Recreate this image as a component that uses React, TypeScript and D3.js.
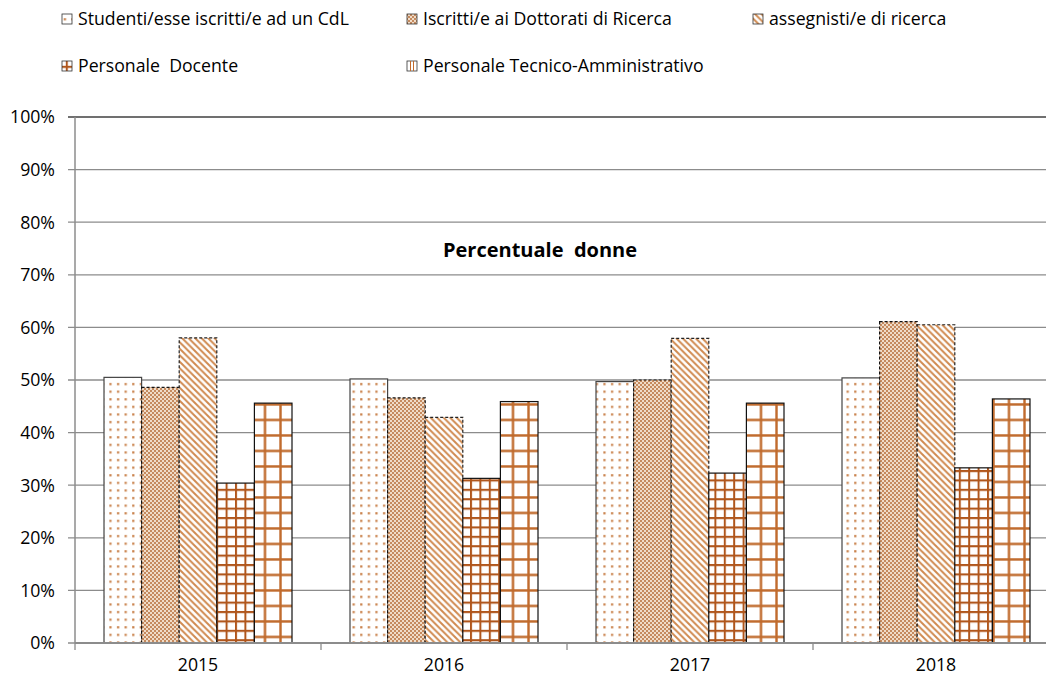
import React, { useEffect, useRef } from "react";
import * as d3 from "d3";

const categories = ["2015", "2016", "2017", "2018"];
const seriesNames = [
  "Studenti/esse iscritti/e ad un CdL",
  "Iscritti/e ai Dottorati di Ricerca",
  "assegnisti/e di ricerca",
  "Personale  Docente",
  "Personale Tecnico-Amministrativo",
];
const studenti = [50.5, 50.2, 49.7, 50.4];
const dottorati = [48.6, 46.6, 50.0, 61.1];
const assegnisti = [58.0, 42.9, 57.9, 60.5];
const docenti = [30.4, 31.3, 32.3, 33.3];
const tecnici = [45.6, 45.9, 45.6, 46.4];
const seriesValues = [studenti, dottorati, assegnisti, docenti, tecnici];
const yTicks = [0, 10, 20, 30, 40, 50, 60, 70, 80, 90, 100];
const title = "Percentuale  donne";

const W = 1046;
const H = 679;
const FONT = "'Open Sans', sans-serif";
const FS = 17.7;

export default function App() {
  const ref = useRef<SVGSVGElement>(null);
  useEffect(() => {
    const svg = d3.select(ref.current);
    svg.selectAll("*").remove();
    const defs = svg.append("defs");
    const dark = "#b0561c";

    // pattern 0: dots
    const p0 = defs.append("pattern").attr("id", "p0").attr("patternUnits", "userSpaceOnUse")
      .attr("width", 7.6).attr("height", 7.6);
    p0.append("rect").attr("width", 7.6).attr("height", 7.6).attr("fill", "#fff");
    p0.append("rect").attr("x", 3).attr("y", 3).attr("width", 2.2).attr("height", 2.2).attr("fill", "#c9814a");

    // pattern 1: fine checker
    const p1 = defs.append("pattern").attr("id", "p1").attr("patternUnits", "userSpaceOnUse")
      .attr("width", 4).attr("height", 4);
    p1.append("rect").attr("width", 4).attr("height", 4).attr("fill", "#f0dcc8");
    p1.append("rect").attr("x", 0).attr("y", 0).attr("width", 2).attr("height", 2).attr("fill", "#c58a5e");
    p1.append("rect").attr("x", 2).attr("y", 2).attr("width", 2).attr("height", 2).attr("fill", "#c58a5e");

    // pattern 2: diagonal
    const p2 = defs.append("pattern").attr("id", "p2").attr("patternUnits", "userSpaceOnUse")
      .attr("width", 6.5).attr("height", 6.5);
    p2.append("rect").attr("width", 6.5).attr("height", 6.5).attr("fill", "#fff");
    p2.append("path").attr("d", "M-1,-1 L7.5,7.5 M-1,5.5 L1,7.5 M5.5,-1 L7.5,1")
      .attr("stroke", "#d08a50").attr("stroke-width", 2);

    // pattern 3: small grid
    const p3 = defs.append("pattern").attr("id", "p3").attr("patternUnits", "userSpaceOnUse")
      .attr("width", 9.4).attr("height", 9.4);
    p3.append("rect").attr("width", 9.4).attr("height", 9.4).attr("fill", "#fff");
    p3.append("path").attr("d", "M1,0 V9.4 M0,1 H9.4").attr("stroke", dark).attr("stroke-width", 2);

    // pattern 4: large grid
    const p4 = defs.append("pattern").attr("id", "p4").attr("patternUnits", "userSpaceOnUse")
      .attr("width", 15.5).attr("height", 15.5);
    p4.append("rect").attr("width", 15.5).attr("height", 15.5).attr("fill", "#fff");
    p4.append("path").attr("d", "M1.5,0 V15.5 M0,1.5 H15.5").attr("stroke", "#c06a2c").attr("stroke-width", 2.4);

    const left = 75, top = 117, bottom = 643;
    const catW = 246;
    const x = d3.scaleBand<string>().domain(categories).range([left, left + catW * categories.length]).paddingInner(0).paddingOuter(0);
    const y = d3.scaleLinear().domain([0, 100]).range([bottom, top]);
    const barW = 37.6;
    const groupW = barW * seriesValues.length;

    // gridlines
    const g = svg.append("g");
    yTicks.forEach((t) => {
      g.append("line").attr("x1", left - 7).attr("x2", W).attr("y1", y(t)).attr("y2", y(t))
        .attr("stroke", t === 100 ? "#404040" : "#8c8c8c").attr("stroke-width", t === 100 ? 1.6 : 1.3);
      g.append("text").attr("x", 55).attr("y", y(t)).attr("dy", "0.36em").attr("text-anchor", "end")
        .attr("font-family", FONT).attr("font-size", FS).attr("fill", "#000").text(`${t}%`);
    });

    // bars
    const borders = [
      { stroke: "#444", dash: null },
      { stroke: "#111", dash: "3,2" },
      { stroke: "#222", dash: "3,2" },
      { stroke: "#111", dash: null },
      { stroke: "#111", dash: null },
    ];
    seriesValues.forEach((vals, si) => {
      vals.forEach((v, ci) => {
        const x0 = (x(categories[ci]) as number) + (catW - groupW) / 2 + si * barW;
        svg.append("rect").attr("x", x0).attr("y", y(v)).attr("width", barW).attr("height", bottom - y(v))
          .attr("fill", `url(#p${si})`).attr("stroke", borders[si].stroke).attr("stroke-width", 1.2)
          .attr("stroke-dasharray", borders[si].dash as any);
      });
    });

    // axes
    svg.append("line").attr("x1", left).attr("x2", left).attr("y1", top).attr("y2", bottom).attr("stroke", "#8c8c8c").attr("stroke-width", 1.5);
    svg.append("line").attr("x1", left).attr("x2", W).attr("y1", bottom).attr("y2", bottom).attr("stroke", "#8c8c8c").attr("stroke-width", 1.8);
    categories.forEach((c, i) => {
      const bx = left + i * catW;
      svg.append("line").attr("x1", bx).attr("x2", bx).attr("y1", bottom).attr("y2", bottom + 7).attr("stroke", "#8c8c8c").attr("stroke-width", 1.3);
      svg.append("text").attr("x", (x(c) as number) + catW / 2).attr("y", 671).attr("text-anchor", "middle")
        .attr("font-family", FONT).attr("font-size", FS).attr("fill", "#000").text(c);
    });

    // title
    svg.append("text").attr("x", 540).attr("y", 257).attr("text-anchor", "middle").attr("font-family", FONT)
      .attr("font-size", 20).attr("font-weight", "bold").attr("fill", "#000")
      .style("white-space", "pre").text(title);

    // legend
    const legendPos = [
      [62, 19], [407, 19], [753, 19], [62, 66], [407, 66],
    ];
    seriesNames.forEach((n, i) => {
      const [lx, ly] = legendPos[i];
      svg.append("rect").attr("x", lx).attr("y", ly - 5).attr("width", 10).attr("height", 10)
        .attr("fill", i === 4 ? "#fff" : `url(#p${i})`).attr("stroke", "#333").attr("stroke-width", 0.8);
      if (i === 4) {
        [lx + 3.5, lx + 6.5].forEach((vx) => {
          svg.append("line").attr("x1", vx).attr("x2", vx).attr("y1", ly - 5).attr("y2", ly + 5)
            .attr("stroke", "#c06a2c").attr("stroke-width", 1);
        });
      }
      svg.append("text").attr("x", lx + 16).attr("y", ly).attr("dy", "0.36em").attr("font-family", FONT)
        .attr("font-size", FS).attr("fill", "#000").style("white-space", "pre").text(n);
    });
  }, []);
  return (
    <svg ref={ref} width={W} height={H} style={{ position: "absolute", left: 0, top: 0, background: "#fff" }} />
  );
}
